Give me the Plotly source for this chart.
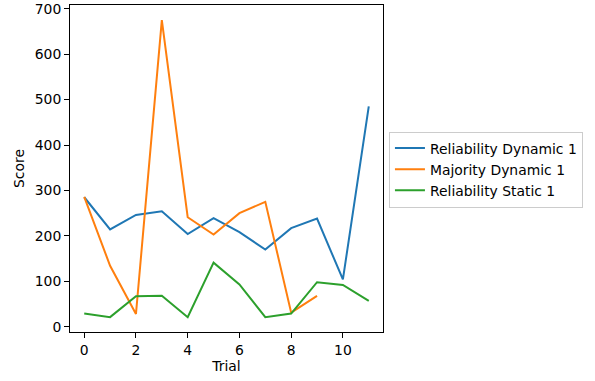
import plotly.graph_objects as go

trials_rel_dyn = list(range(12))
rel_dyn = [285, 214, 246, 254, 204, 239, 208, 170, 217, 238, 104, 485]

trials_maj_dyn = list(range(10))
maj_dyn = [286, 134, 28, 675, 241, 203, 250, 275, 31, 68]

trials_rel_static = list(range(12))
rel_static = [29, 21, 67, 68, 21, 141, 93, 21, 29, 98, 92, 57]

x_ticks = [0, 2, 4, 6, 8, 10]
y_ticks = [0, 100, 200, 300, 400, 500, 600, 700]

FONT = "DejaVu Sans"
FS = 13.9

fig = go.Figure()
fig.add_trace(go.Scatter(x=trials_rel_dyn, y=rel_dyn, mode="lines",
                         name="Reliability Dynamic 1",
                         line=dict(color="#1f77b4", width=2)))
fig.add_trace(go.Scatter(x=trials_maj_dyn, y=maj_dyn, mode="lines",
                         name="Majority Dynamic 1",
                         line=dict(color="#ff7f0e", width=2)))
fig.add_trace(go.Scatter(x=trials_rel_static, y=rel_static, mode="lines",
                         name="Reliability Static 1",
                         line=dict(color="#2ca02c", width=2)))

axis_common = dict(showline=True, linecolor="black", linewidth=1, mirror=True,
                   ticks="outside", ticklen=5, tickwidth=1, tickcolor="black",
                   showgrid=False, zeroline=False, automargin=False,
                   tickfont=dict(family=FONT, size=FS, color="black"))

fig.update_xaxes(range=[-0.55, 11.55], tickvals=x_ticks,
                 title=dict(text="Trial", font=dict(family=FONT, size=FS, color="black"), standoff=2),
                 **axis_common)
fig.update_yaxes(range=[-11.7, 708.3], tickvals=y_ticks,
                 title=dict(text="Score", font=dict(family=FONT, size=FS, color="black"), standoff=6),
                 **axis_common)

fig.update_layout(
    width=595, height=381,
    margin=dict(l=70, r=212, t=5, b=49),
    paper_bgcolor="white", plot_bgcolor="white",
    font=dict(family=FONT, size=FS, color="black"),
    legend=dict(x=1.019, y=0.613, xanchor="left", yanchor="top",
                bordercolor="#cccccc", borderwidth=1, bgcolor="white",
                font=dict(family=FONT, size=FS, color="black"),
                tracegroupgap=0),
    showlegend=True,
)

fig.write_html("out.html", config={"displayModeBar": False},
               post_script="document.body.style.margin='0';")
